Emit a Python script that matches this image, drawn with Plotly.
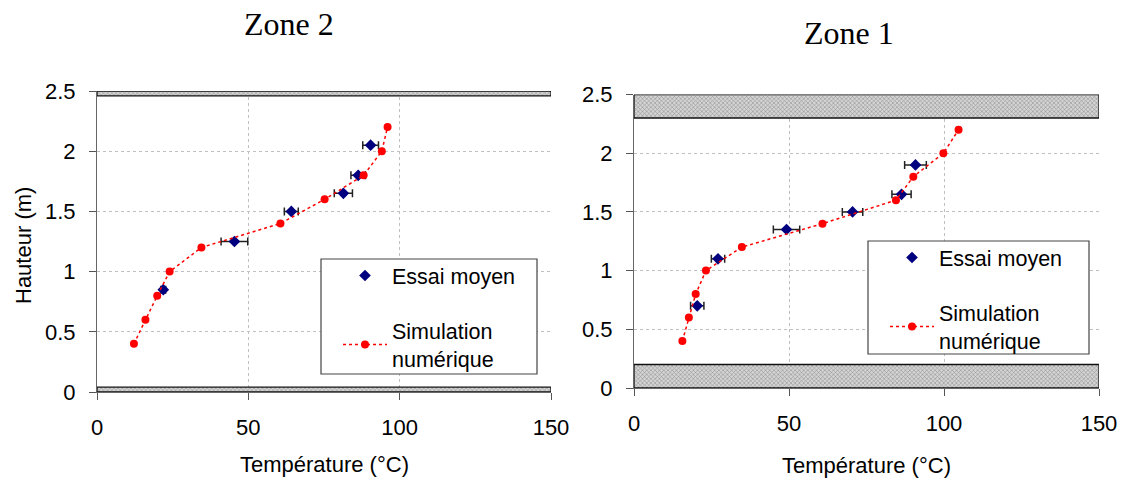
import plotly.graph_objects as go

# ---------------- data ----------------
heights_sim = [0.4, 0.6, 0.8, 1.0, 1.2, 1.4, 1.6, 1.8, 2.0, 2.2]

zone2_sim_T = [12.2, 16.0, 19.9, 24.0, 34.5, 60.6, 75.2, 88.1, 94.1, 96.0]
zone2_exp_T = [21.9, 45.4, 64.2, 81.4, 86.3, 90.4]
zone2_exp_H = [0.85, 1.25, 1.5, 1.65, 1.8, 2.05]
zone2_exp_err = [0.8, 4.4, 2.3, 3.0, 2.4, 2.6]
zone2_walls = [[0.0, 0.04], [2.46, 2.5]]

zone1_sim_T = [15.6, 17.7, 19.9, 23.2, 34.8, 60.8, 84.5, 90.1, 99.8, 104.7]
zone1_exp_T = [20.4, 27.1, 49.2, 70.5, 86.3, 90.8]
zone1_exp_H = [0.7, 1.1, 1.35, 1.5, 1.65, 1.9]
zone1_exp_err = [2.15, 2.15, 4.25, 3.3, 3.1, 3.5]
zone1_walls = [[0.0, 0.2], [2.3, 2.5]]

T_range = [0, 150]
H_range = [0, 2.5]
T_ticks = [0, 50, 100, 150]
H_ticks = [0, 0.5, 1, 1.5, 2, 2.5]
H_ticktext = ["0", "0.5", "1", "1.5", "2", "2.5"]

titles = ["Zone 2", "Zone 1"]
x_title = "Température (°C)"
y_title = "Hauteur (m)"
name_exp = "Essai moyen"
name_sim = "Simulation<br>numérique"

SANS = "Liberation Sans, Arial, sans-serif"
SERIF = "Liberation Serif, Times New Roman, serif"

W, Hh = 1128, 479


def px_x(a, b):
    return [a / W, b / W]


def px_y(top, bottom):
    return [(Hh - bottom) / Hh, (Hh - top) / Hh]


fig = go.Figure()

panels = [
    dict(sim_T=zone2_sim_T, exp_T=zone2_exp_T, exp_H=zone2_exp_H, err=zone2_exp_err,
         walls=zone2_walls, xa="x", ya="y", legend="legend"),
    dict(sim_T=zone1_sim_T, exp_T=zone1_exp_T, exp_H=zone1_exp_H, err=zone1_exp_err,
         walls=zone1_walls, xa="x2", ya="y2", legend="legend2"),
]

for p in panels:
    # hatched walls
    for lo, hi in p["walls"]:
        fig.add_trace(go.Scatter(
            x=[T_range[0], T_range[1], T_range[1], T_range[0], T_range[0]],
            y=[lo, lo, hi, hi, lo],
            mode="lines", fill="toself",
            fillcolor="#c8c8c8",
            fillpattern=dict(shape="x", size=3, solidity=0.3,
                             fgcolor="#333333", bgcolor="#d4d4d4"),
            line=dict(color="#111111", width=1.3),
            hoverinfo="skip", showlegend=False,
            xaxis=p["xa"], yaxis=p["ya"]))
    # experimental points
    fig.add_trace(go.Scatter(
        x=p["exp_T"], y=p["exp_H"], mode="markers", name=name_exp,
        marker=dict(symbol="diamond", size=9, color="#00007f"),
        error_x=dict(type="data", array=p["err"], visible=True,
                     color="#222222", thickness=1.5, width=4),
        legend=p["legend"], legendgroup="exp",
        xaxis=p["xa"], yaxis=p["ya"]))
    # simulation
    fig.add_trace(go.Scatter(
        x=p["sim_T"], y=heights_sim, mode="lines+markers", name=name_sim,
        line=dict(color="#ff0000", width=1.5, dash="dot"),
        marker=dict(symbol="circle", size=8, color="#ff0000"),
        legend=p["legend"], legendgroup="sim",
        xaxis=p["xa"], yaxis=p["ya"]))

axis_common = dict(
    showline=True, linecolor="#666666", linewidth=1.2,
    showgrid=True, gridcolor="#c0c0c0", griddash="dot", gridwidth=1,
    zeroline=False, ticks="outside", ticklen=7, tickcolor="#555555",
    tickfont=dict(family=SANS, size=22, color="black"),
    automargin=False,
)

# legend boxes (left, top, right, bottom) in page pixels
legend_boxes = [(321, 259, 537, 374), (868, 241, 1089, 354)]

legend_common = dict(
    xanchor="left", yanchor="top", bgcolor="rgba(0,0,0,0)", borderwidth=0,
    font=dict(family=SANS, size=21.5, color="black"),
    traceorder="grouped", tracegroupgap=24, itemwidth=44,
)

fig.update_layout(
    width=W, height=Hh,
    margin=dict(l=0, r=0, t=0, b=0),
    paper_bgcolor="white", plot_bgcolor="white",
    xaxis=dict(axis_common, domain=px_x(97, 551), range=T_range,
               tickvals=T_ticks, ticklabelstandoff=8, anchor="y"),
    yaxis=dict(axis_common, domain=px_y(91, 392), range=H_range,
               tickvals=H_ticks, ticktext=H_ticktext, ticklabelstandoff=9, anchor="x"),
    xaxis2=dict(axis_common, domain=px_x(634, 1099), range=T_range,
                tickvals=T_ticks, ticklabelstandoff=8, anchor="y2"),
    yaxis2=dict(axis_common, domain=px_y(94.5, 388), range=H_range,
                tickvals=H_ticks, ticktext=H_ticktext, ticklabelstandoff=9, anchor="x2"),
    legend=dict(legend_common, x=(legend_boxes[0][0] + 17) / W,
                y=(Hh - legend_boxes[0][1] + 4) / Hh),
    legend2=dict(legend_common, x=(legend_boxes[1][0] + 17) / W,
                 y=(Hh - legend_boxes[1][1] + 4) / Hh),
    showlegend=True,
)

shapes = []
for (l, t, r, b) in legend_boxes:
    shapes.append(dict(type="rect", xref="paper", yref="paper",
                       x0=l / W, x1=r / W, y0=(Hh - b) / Hh, y1=(Hh - t) / Hh,
                       fillcolor="white", line=dict(color="#444444", width=1.2),
                       layer="above"))
fig.update_layout(shapes=shapes)

annotations = [
    dict(text=titles[0], x=289 / W, y=(Hh - 24) / Hh, xref="paper", yref="paper",
         showarrow=False, xanchor="center", yanchor="middle",
         font=dict(family=SERIF, size=32, color="black")),
    dict(text=titles[1], x=849 / W, y=(Hh - 33) / Hh, xref="paper", yref="paper",
         showarrow=False, xanchor="center", yanchor="middle",
         font=dict(family=SERIF, size=32, color="black")),
    dict(text=x_title, x=324 / W, y=(Hh - 464) / Hh, xref="paper", yref="paper",
         showarrow=False, xanchor="center", yanchor="middle",
         font=dict(family=SANS, size=22, color="black")),
    dict(text=x_title, x=866 / W, y=(Hh - 465) / Hh, xref="paper", yref="paper",
         showarrow=False, xanchor="center", yanchor="middle",
         font=dict(family=SANS, size=22, color="black")),
    dict(text=y_title, x=23 / W, y=(Hh - 246) / Hh, xref="paper", yref="paper",
         showarrow=False, xanchor="center", yanchor="middle", textangle=-90,
         font=dict(family=SANS, size=22, color="black")),
]
fig.update_layout(annotations=annotations)

fig.write_html(
    "out.html",
    config={"displayModeBar": False},
    post_script="document.body.style.margin='0px';document.body.style.overflow='hidden';",
)
